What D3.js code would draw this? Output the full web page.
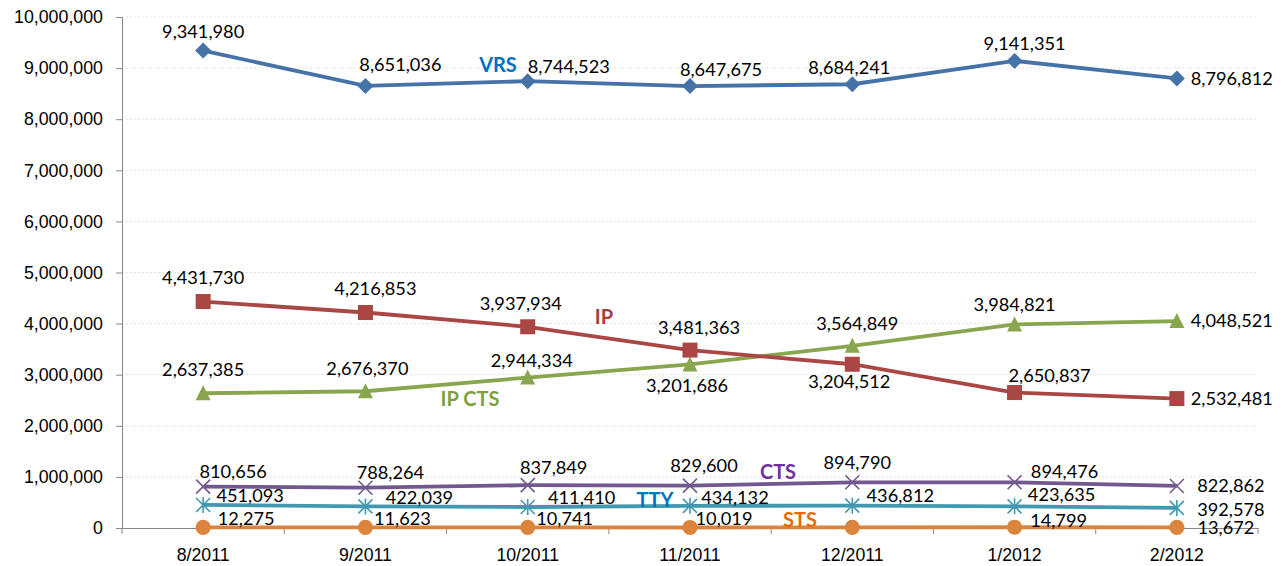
<!DOCTYPE html>
<html>
<head>
<meta charset="utf-8">
<script src="https://cdn.jsdelivr.net/npm/d3@7"></script>
<style>
  body { margin: 0; background: #fff; }
  svg { font-family: Lato, "Open Sans", sans-serif; }
</style>
</head>
<body>
<div class="chart"></div>
<script>
let width = 1283, height = 566;
let margin = {top: 17, bottom: 38, left: 122, right: 25};

let months = ["8/2011", "9/2011", "10/2011", "11/2011", "12/2011", "1/2012", "2/2012"];
let yTicks = [0, 1000000, 2000000, 3000000, 4000000, 5000000, 6000000, 7000000, 8000000, 9000000, 10000000];

let vrs   = [9341980, 8651036, 8744523, 8647675, 8684241, 9141351, 8796812];
let ip    = [4431730, 4216853, 3937934, 3481363, 3204512, 2650837, 2532481];
let ipCts = [2637385, 2676370, 2944334, 3201686, 3564849, 3984821, 4048521];
let cts   = [810656, 788264, 837849, 829600, 894790, 894476, 822862];
let tty   = [451093, 422039, 411410, 434132, 436812, 423635, 392578];
let sts   = [12275, 11623, 10741, 10019, 13000, 14799, 13672];

// label offsets from the point (dx, dy) – null = no label shown
let series = [
  {name: "VRS", values: vrs, color: "#4572A7", nameColor: "#0070C0", marker: "diamond",
   nameAt: [498, 65],
   lab: [[0, -19], [35, -21], [41, -15], [31, -16], [-3, -17], [10, -17], [55, 0]]},
  {name: "IP", values: ip, color: "#AA4643", nameColor: "#A5403C", marker: "square",
   nameAt: [604, 317],
   lab: [[0, -24], [10, -24], [-7, -23], [9, -22], [-3, 17], [35, -17], [55, 0]]},
  {name: "IP CTS", values: ipCts, color: "#89A54E", nameColor: "#7EA03F", marker: "triangle",
   nameAt: [470, 399],
   lab: [[0, -24], [2, -23], [4, -17], [-3, 21], [5, -22], [0, -20], [55, 0]]},
  {name: "CTS", values: cts, color: "#71588F", nameColor: "#7030A0", marker: "x",
   nameAt: [778, 472],
   lab: [[30, -15], [25, -15], [26, -18], [14, -20], [5, -20], [50, -11], [54, 0]]},
  {name: "TTY", values: tty, color: "#4198AF", nameColor: "#0070C0", marker: "asterisk",
   nameAt: [655, 500],
   lab: [[47, -9], [54, -9], [54, -9], [45, -8], [48, -10], [47, -12], [54, 2]]},
  {name: "STS", values: sts, color: "#DB843D", nameColor: "#E46C0A", marker: "circle",
   nameAt: [800, 520],
   lab: [[43, -9], [37, -9], [37, -9], [34, -9], null, [44, -7], [49, 0]]}
];

let svg = d3.select(".chart").append("svg")
  .attr("width", width).attr("height", height);

let x = d3.scaleBand().domain(months)
  .range([margin.left, width - margin.right]);
let y = d3.scaleLinear().domain([0, 10000000])
  .range([height - margin.bottom, margin.top]);
let cx = d => x(d) + x.bandwidth() / 2;
let fmt = d3.format(",");

// gridlines
svg.append("g").selectAll("line")
  .data(yTicks.filter(d => d > 0))
  .enter().append("line")
  .attr("x1", margin.left).attr("x2", width - margin.right)
  .attr("y1", d => y(d)).attr("y2", d => y(d))
  .attr("stroke", "#e2e2e2").attr("stroke-dasharray", "2,2");

// y axis
let yAxis = svg.append("g")
  .attr("transform", "translate(" + margin.left + ",0)")
  .call(d3.axisLeft(y).tickValues(yTicks).tickFormat(fmt).tickSize(6).tickPadding(13));
yAxis.selectAll("text").attr("font-size", 17.8).attr("fill", "#000");
yAxis.selectAll("line, path").attr("stroke", "#888");

// x axis, ticks sit between the categories
let xAxis = svg.append("g")
  .attr("transform", "translate(0," + y(0) + ")")
  .call(d3.axisBottom(x).tickSize(0).tickPadding(20));
xAxis.selectAll("text").attr("font-size", 17.7).attr("fill", "#000");
xAxis.select("path").attr("stroke", "#888");
xAxis.selectAll(".sep")
  .data(months.concat(["end"]))
  .enter().append("line")
  .attr("x1", (d, i) => margin.left + i * x.step())
  .attr("x2", (d, i) => margin.left + i * x.step())
  .attr("y1", 0).attr("y2", 6)
  .attr("stroke", "#888");

let line = d3.line().x((d, i) => cx(months[i])).y(d => y(d));

function drawMarker(g, type, color) {
  if (type === "diamond") {
    g.append("path").attr("d", "M0,-8L8,0L0,8L-8,0Z").attr("fill", color);
  } else if (type === "square") {
    g.append("rect").attr("x", -7.5).attr("y", -7.5).attr("width", 15).attr("height", 15).attr("fill", color);
  } else if (type === "triangle") {
    g.append("path").attr("d", "M0,-8L7.5,7L-7.5,7Z").attr("fill", color);
  } else if (type === "circle") {
    g.append("circle").attr("r", 7.6).attr("fill", color);
  } else if (type === "x") {
    g.append("path").attr("d", "M-7,-7L7,7M7,-7L-7,7").attr("stroke", color).attr("stroke-width", 1.6);
  } else if (type === "asterisk") {
    g.append("path").attr("d", "M-7,-7L7,7M7,-7L-7,7M0,-8L0,8").attr("stroke", color).attr("stroke-width", 1.6);
  }
}

series.slice().reverse().forEach(s => {
  svg.append("path")
    .datum(s.values)
    .attr("d", line)
    .attr("fill", "none")
    .attr("stroke", s.color)
    .attr("stroke-width", 3.8);
  s.values.forEach((v, i) => {
    let g = svg.append("g").attr("transform", "translate(" + cx(months[i]) + "," + y(v) + ")");
    drawMarker(g, s.marker, s.color);
  });
});

// data labels and series names
series.forEach(s => {
  s.values.forEach((v, i) => {
    let o = s.lab[i];
    if (!o) return;
    svg.append("text")
      .attr("x", cx(months[i]) + o[0])
      .attr("y", y(v) + o[1])
      .attr("dy", "0.35em")
      .attr("text-anchor", "middle")
      .attr("font-size", 18.2)
      .attr("fill", "#000")
      .text(fmt(v));
  });
  svg.append("text")
    .attr("x", s.nameAt[0]).attr("y", s.nameAt[1])
    .attr("dy", "0.35em")
    .attr("text-anchor", "middle")
    .attr("font-size", 20)
    .attr("font-weight", "bold")
    .attr("fill", s.nameColor)
    .text(s.name);
});
</script>
</body>
</html>
